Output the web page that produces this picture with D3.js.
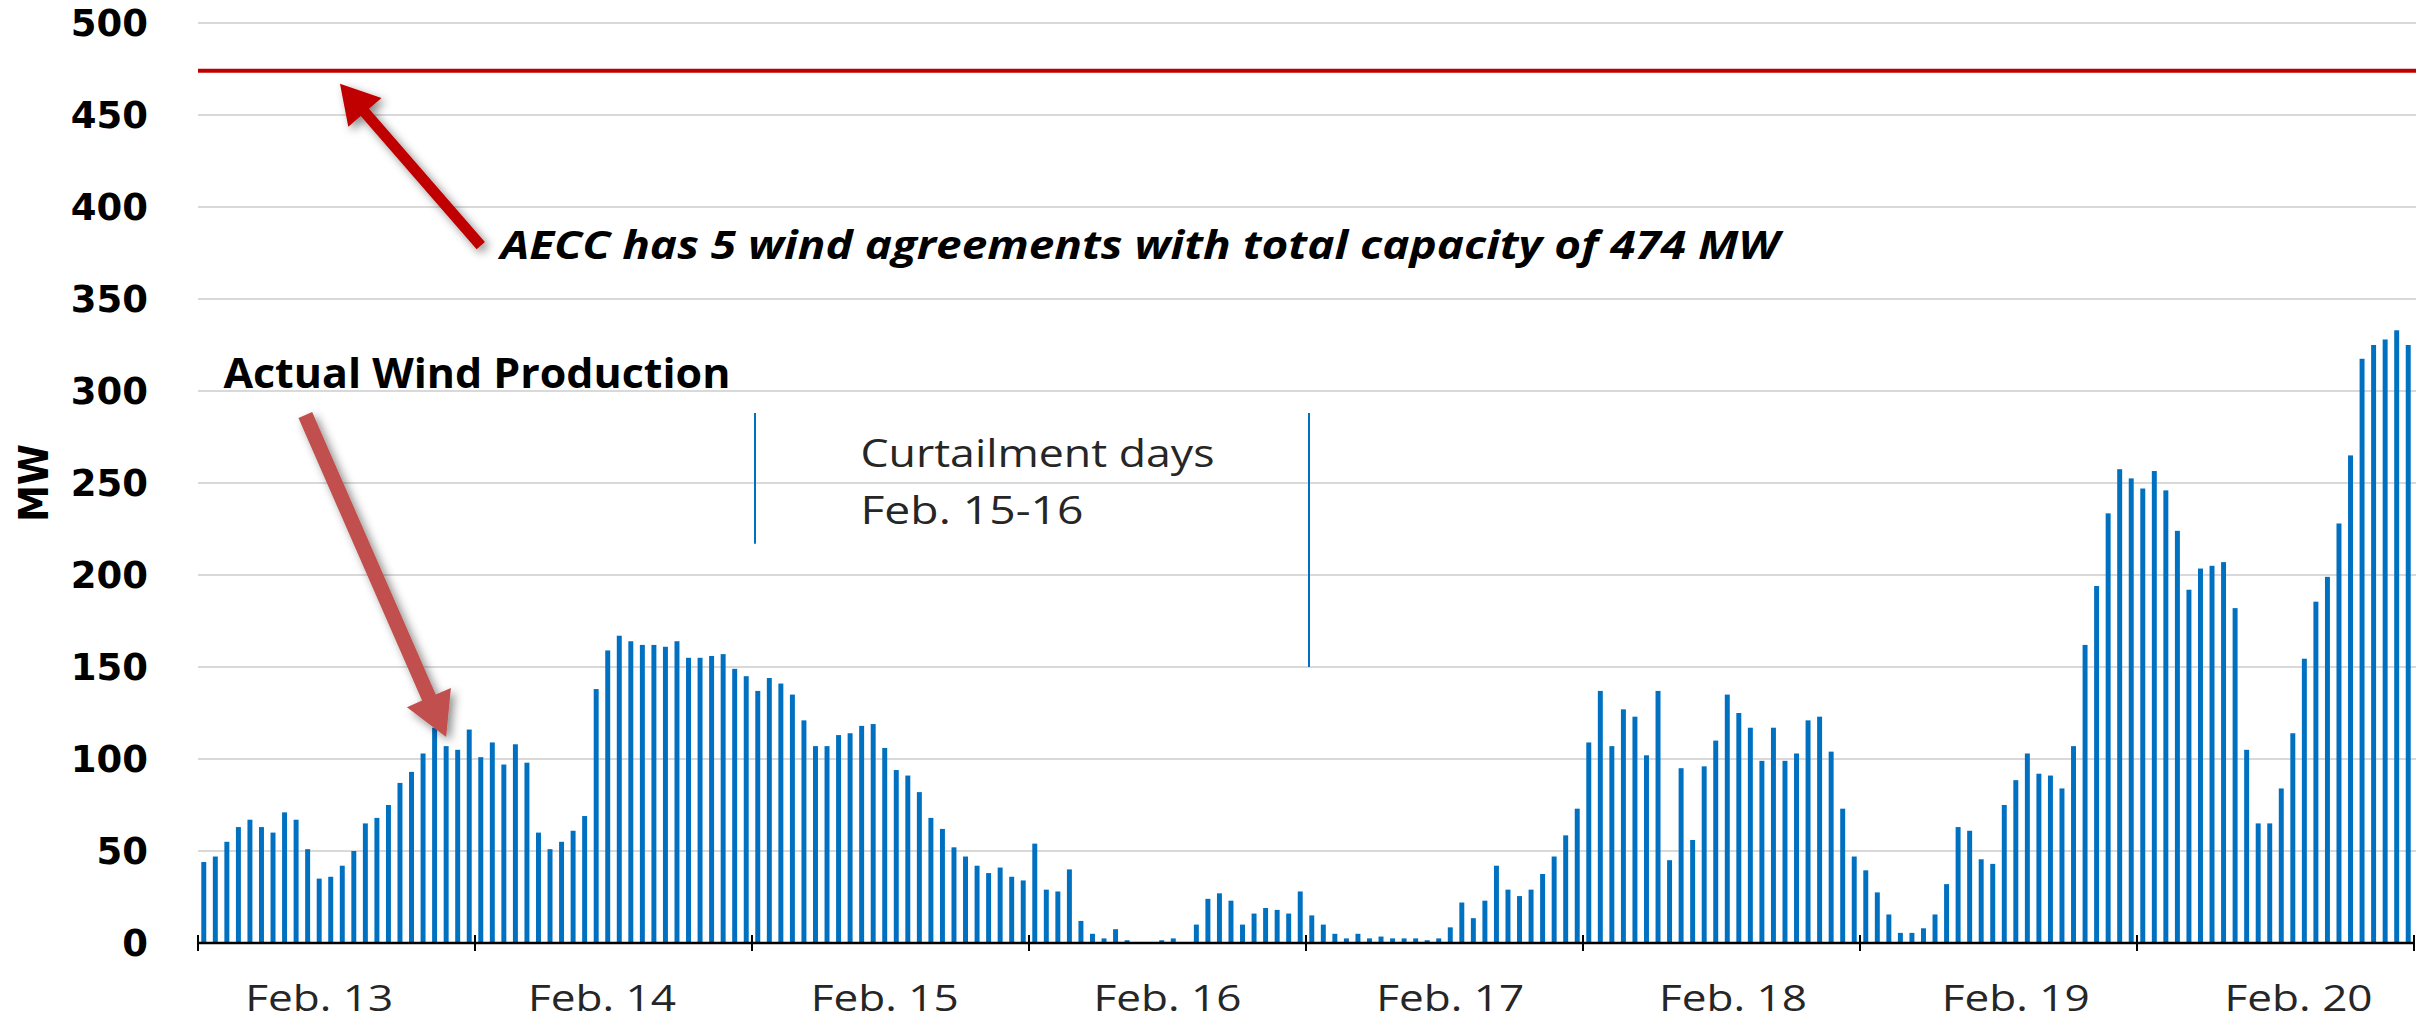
<!DOCTYPE html>
<html>
<head>
<meta charset="utf-8">
<script src="https://cdn.jsdelivr.net/npm/d3@7/dist/d3.min.js"></script>
<style>
  body { margin: 0; background: #fff; }
  svg { display: block; }
</style>
</head>
<body>
<div id="chart"></div>
<script>
// hourly wind production (MW), one array per day
const days  = ["Feb. 13", "Feb. 14", "Feb. 15", "Feb. 16", "Feb. 17", "Feb. 18", "Feb. 19", "Feb. 20"];
const feb13 = [44, 47, 55, 63, 67, 63, 60, 71, 67, 51, 35, 36, 42, 50, 65, 68, 75, 87, 93, 103, 117, 107, 105, 116];
const feb14 = [101, 109, 97, 108, 98, 60, 51, 55, 61, 69, 138, 159, 167, 164, 162, 162, 161, 164, 155, 155, 156, 157, 149, 145];
const feb15 = [137, 144, 141, 135, 121, 107, 107, 113, 114, 118, 119, 106, 94, 91, 82, 68, 62, 52, 47, 42, 38, 41, 36, 34];
const feb16 = [54, 29, 28, 40, 12, 5, 2.5, 7.5, 1.5, 0, 0, 1.5, 2.5, 0, 10, 24, 27, 23, 10, 16, 19, 18, 16, 28];
const feb17 = [15, 10, 5, 2.5, 5, 2.5, 3.5, 2.5, 2.5, 2.5, 1.5, 2.5, 8.5, 22, 13.5, 23, 42, 29, 25.5, 29, 37.5, 47, 58.5, 73];
const feb18 = [109, 137, 107, 127, 123, 102, 137, 45, 95, 56, 96, 110, 135, 125, 117, 99, 117, 99, 103, 121, 123, 104, 73, 47];
const feb19 = [39.5, 27.5, 15.5, 5.5, 5.5, 8, 15.5, 32, 63, 61, 45.5, 43, 75, 88.5, 103, 92, 91, 84, 107, 162, 194, 233.5, 257.5, 252.5];
const feb20 = [247, 256.5, 246, 224, 192, 203.5, 205, 207, 182, 105, 65, 65, 84, 114, 154.5, 185.5, 199, 228, 265, 317.5, 325, 328, 333, 325];

const yTickValues = [0, 50, 100, 150, 200, 250, 300, 350, 400, 450, 500];
const capacityMW  = 474;

// annotations, placed as [hour, MW]
const capacityArrow   = {from: [24.5, 379], to: [12.3, 467]};
const productionArrow = {from: [9.3, 287], to: [21.5, 112]};
const curtailLines    = [{hour: 48, lo: 217, hi: 288}, {hour: 96, lo: 150, hi: 288}];

const production = [].concat(feb13, feb14, feb15, feb16, feb17, feb18, feb19, feb20);

const width  = 2425;
const height = 1023;
const margin = {top: 23, right: 11, bottom: 80, left: 198};

const svg = d3.select("#chart")
    .append("svg")
    .attr("width", width)
    .attr("height", height);

const defs = svg.append("defs");
const shadow = defs.append("filter")
    .attr("id", "shadow")
    .attr("x", "-50%").attr("y", "-50%")
    .attr("width", "200%").attr("height", "200%");
shadow.append("feDropShadow")
    .attr("dx", 4).attr("dy", 4)
    .attr("stdDeviation", 5)
    .attr("flood-color", "#000")
    .attr("flood-opacity", 0.45);

// continuous hour scale for boundaries, band scale for bars
const xt = d3.scaleLinear()
    .domain([0, production.length])
    .range([margin.left, width - margin.right]);

const x = d3.scaleBand()
    .domain(d3.range(production.length))
    .range([margin.left, width - margin.right])
    .paddingInner(0.57)
    .paddingOuter(0.285);

const y = d3.scaleLinear()
    .domain([0, 500])
    .range([height - margin.bottom, margin.top]);

const xLabel = d3.scalePoint()
    .domain(days)
    .range([xt(10.5), xt(182)]);

// gridlines
svg.append("g")
    .selectAll("line")
    .data(yTickValues.filter(d => d > 0))
    .enter()
    .append("line")
    .attr("x1", xt(0))
    .attr("x2", xt(production.length) + 2)
    .attr("y1", d => y(d))
    .attr("y2", d => y(d))
    .attr("stroke", "#d9d9d9")
    .attr("stroke-width", 2);

// y tick labels
svg.append("g")
    .selectAll("text")
    .data(yTickValues)
    .enter()
    .append("text")
    .attr("x", 148)
    .attr("y", d => y(d))
    .attr("dy", "0.36em")
    .attr("text-anchor", "end")
    .attr("style", "font-family: 'DejaVu Sans'; font-weight: bold; font-size: 37px;")
    .attr("fill", "#000")
    .text(d => d);

svg.append("text")
    .attr("transform", "translate(48," + y(250) + ") rotate(-90)")
    .attr("text-anchor", "middle")
    .attr("textLength", 78)
    .attr("lengthAdjust", "spacingAndGlyphs")
    .attr("style", "font-family: 'DejaVu Sans'; font-weight: bold; font-size: 40px;")
    .text("MW");

// capacity line
svg.append("line")
    .attr("x1", xt(0))
    .attr("x2", xt(production.length) + 2)
    .attr("y1", y(capacityMW))
    .attr("y2", y(capacityMW))
    .attr("stroke", "#C00000")
    .attr("stroke-width", 4);

// bars
svg.append("g")
    .selectAll("rect")
    .data(production)
    .enter()
    .append("rect")
    .attr("x", (d, i) => x(i))
    .attr("y", d => y(d))
    .attr("width", x.bandwidth())
    .attr("height", d => y(0) - y(d))
    .attr("fill", "#0070C0");

// x axis
const y0 = y(0);
svg.append("line")
    .attr("x1", xt(0))
    .attr("x2", xt(production.length))
    .attr("y1", y0)
    .attr("y2", y0)
    .attr("stroke", "#000")
    .attr("stroke-width", 2.5);

svg.append("g")
    .selectAll("line")
    .data(d3.range(days.length + 1))
    .enter()
    .append("line")
    .attr("x1", d => xt(d * 24))
    .attr("x2", d => xt(d * 24))
    .attr("y1", y0 - 8)
    .attr("y2", y0 + 8)
    .attr("stroke", "#000")
    .attr("stroke-width", 2);

svg.append("g")
    .selectAll("text")
    .data(days)
    .enter()
    .append("text")
    .attr("x", d => xLabel(d))
    .attr("y", 1011)
    .attr("text-anchor", "middle")
    .attr("textLength", 148)
    .attr("lengthAdjust", "spacingAndGlyphs")
    .attr("style", "font-family: 'Open Sans'; font-size: 36px;")
    .attr("fill", "#262626")
    .text(d => d);

// curtailment markers
svg.append("g")
    .selectAll("line")
    .data(curtailLines)
    .enter()
    .append("line")
    .attr("x1", d => xt(d.hour) + 3)
    .attr("x2", d => xt(d.hour) + 3)
    .attr("y1", d => y(d.lo))
    .attr("y2", d => y(d.hi))
    .attr("stroke", "#0070C0")
    .attr("stroke-width", 2);

let curtail = svg.append("g")
    .attr("style", "font-family: 'Open Sans'; font-size: 38px;")
    .attr("fill", "#262626");
curtail.append("text")
    .attr("x", xt(57.4))
    .attr("y", y(258.7))
    .attr("textLength", 354)
    .attr("lengthAdjust", "spacingAndGlyphs")
    .text("Curtailment days");
curtail.append("text")
    .attr("x", xt(57.4))
    .attr("y", y(227.7))
    .attr("textLength", 223)
    .attr("lengthAdjust", "spacingAndGlyphs")
    .text("Feb. 15-16");

// annotation arrows
function arrowPoints(from, to, shaftW, headLen, headW) {
    let x1 = xt(from[0]), y1 = y(from[1]);
    let x2 = xt(to[0]),   y2 = y(to[1]);
    let len = Math.hypot(x2 - x1, y2 - y1);
    let ux = (x2 - x1) / len, uy = (y2 - y1) / len;
    let px = -uy, py = ux;
    let bx = x2 - ux * headLen, by = y2 - uy * headLen;
    let s = shaftW / 2, h = headW / 2;
    return [
        [x1 + px * s, y1 + py * s],
        [bx + px * s, by + py * s],
        [bx + px * h, by + py * h],
        [x2, y2],
        [bx - px * h, by - py * h],
        [bx - px * s, by - py * s],
        [x1 - px * s, y1 - py * s]
    ].map(p => p.join(",")).join(" ");
}

svg.append("polygon")
    .attr("points", arrowPoints(capacityArrow.from, capacityArrow.to, 11, 38, 44))
    .attr("fill", "#C00000")
    .attr("filter", "url(#shadow)");

svg.append("polygon")
    .attr("points", arrowPoints(productionArrow.from, productionArrow.to, 15, 43, 48))
    .attr("fill", "#C0504D")
    .attr("filter", "url(#shadow)");

// annotation text
svg.append("text")
    .attr("x", xt(26.2))
    .attr("y", y(372))
    .attr("textLength", 1279)
    .attr("lengthAdjust", "spacingAndGlyphs")
    .attr("style", "font-family: 'Open Sans'; font-weight: bold; font-style: italic; font-size: 40px;")
    .attr("fill", "#000")
    .text("AECC has 5 wind agreements with total capacity of 474 MW");

svg.append("text")
    .attr("x", xt(2.2))
    .attr("y", y(301.6))
    .attr("textLength", 507)
    .attr("lengthAdjust", "spacingAndGlyphs")
    .attr("style", "font-family: 'Open Sans'; font-weight: bold; font-size: 42px;")
    .attr("fill", "#000")
    .text("Actual Wind Production");
</script>
</body>
</html>
